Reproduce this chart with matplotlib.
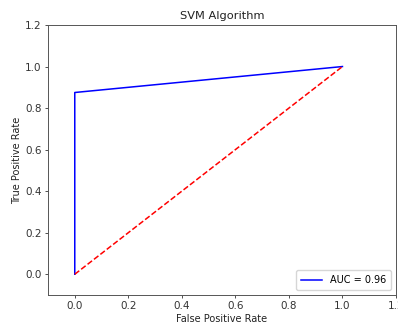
import matplotlib
matplotlib.use('Agg')
import matplotlib.pyplot as plt

# ROC points
fpr = [0.0, 0.0, 1.0]
tpr = [0.0, 0.875, 1.0]
diag = [0.0, 1.0]
auc_label = 'AUC = 0.96'

plt.rcParams['font.size'] = 7

fig = plt.figure(figsize=(3.98, 3.28), dpi=100)
ax = fig.add_axes([48 / 398, 33 / 328, 348 / 398, 270 / 328])

ax.plot(fpr, tpr, color='blue', lw=1.1, label=auc_label)
ax.plot(diag, diag, color='red', ls='--', lw=1.1)

ax.set_xlim([-0.1, 1.2])
ax.set_ylim([-0.1, 1.2])
ax.set_xticks([0.0, 0.2, 0.4, 0.6, 0.8, 1.0, 1.2])
ax.set_yticks([0.0, 0.2, 0.4, 0.6, 0.8, 1.0, 1.2])
ax.tick_params(length=2.5, width=0.6, pad=2, labelsize=7.5, colors='#333333')
for s in ax.spines.values():
    s.set_linewidth(0.7)
    s.set_color('#555555')

ax.set_title('SVM Algorithm', fontsize=8.2, pad=4, color='#222222')
ax.set_xlabel('False Positive Rate', labelpad=2, color='#222222')
ax.set_ylabel('True Positive Rate', labelpad=2, color='#222222')
ax.legend(loc='lower right', fontsize=7, handlelength=2.2, borderpad=0.5)

fig.savefig('out.png', dpi=100)
